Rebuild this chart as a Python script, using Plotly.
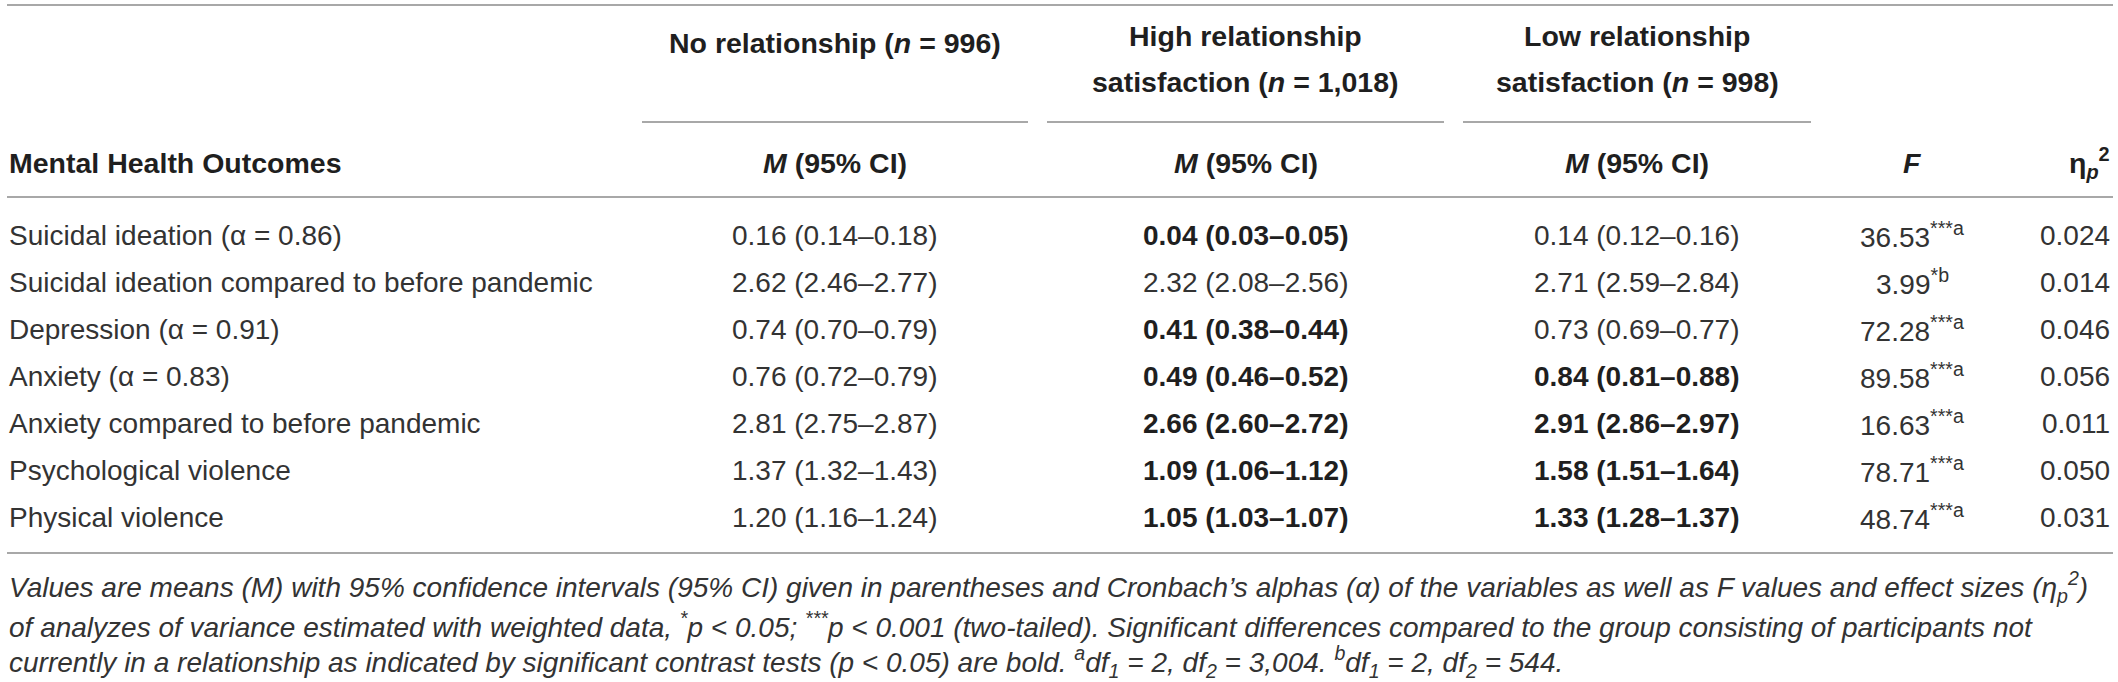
import plotly.graph_objects as go

# ---------------- data ----------------
outcomes = [
    "Suicidal ideation (α = 0.86)",
    "Suicidal ideation compared to before pandemic",
    "Depression (α = 0.91)",
    "Anxiety (α = 0.83)",
    "Anxiety compared to before pandemic",
    "Psychological violence",
    "Physical violence",
]
no_rel_m = [0.16, 2.62, 0.74, 0.76, 2.81, 1.37, 1.20]
no_rel_lo = [0.14, 2.46, 0.70, 0.72, 2.75, 1.32, 1.16]
no_rel_hi = [0.18, 2.77, 0.79, 0.79, 2.87, 1.43, 1.24]

high_m = [0.04, 2.32, 0.41, 0.49, 2.66, 1.09, 1.05]
high_lo = [0.03, 2.08, 0.38, 0.46, 2.60, 1.06, 1.03]
high_hi = [0.05, 2.56, 0.44, 0.52, 2.72, 1.12, 1.07]
high_bold = [True, False, True, True, True, True, True]

low_m = [0.14, 2.71, 0.73, 0.84, 2.91, 1.58, 1.33]
low_lo = [0.12, 2.59, 0.69, 0.81, 2.86, 1.51, 1.28]
low_hi = [0.16, 2.84, 0.77, 0.88, 2.97, 1.64, 1.37]
low_bold = [False, False, False, True, True, True, True]

f_values = [36.53, 3.99, 72.28, 89.58, 16.63, 78.71, 48.74]
f_marks = ["***a", "*b", "***a", "***a", "***a", "***a", "***a"]
eta_values = [0.024, 0.014, 0.046, 0.056, 0.011, 0.050, 0.031]

group_headers = [
    ["No relationship (<i>n</i> = 996)"],
    ["High relationship", "satisfaction (<i>n</i> = 1,018)"],
    ["Low relationship", "satisfaction (<i>n</i> = 998)"],
]
sub_header = "<i>M</i> (95% CI)"
row_header = "Mental Health Outcomes"
f_header = "<i>F</i>"
eta_header = "η<sub><i>p</i></sub><sup>2</sup>"

footnote_lines = [
    "Values are means (M) with 95% confidence intervals (95% CI) given in parentheses and Cronbach’s alphas (α) of the variables as well as F values and effect sizes (η<sub>p</sub><sup>2</sup>)",
    "of analyzes of variance estimated with weighted data, <sup>*</sup>p &lt; 0.05; <sup>***</sup>p &lt; 0.001 (two-tailed). Significant differences compared to the group consisting of participants not",
    "currently in a relationship as indicated by significant contrast tests (p &lt; 0.05) are bold. <sup>a</sup>df<sub>1</sub> = 2, df<sub>2</sub> = 3,004. <sup>b</sup>df<sub>1</sub> = 2, df<sub>2</sub> = 544.",
]

# ---------------- layout config ----------------
W, H = 2118, 682
FONT = "Liberation Sans, Arial, Helvetica, sans-serif"
FS = 28
FS_HEAD = 28.5
FS_FOOT = 28
TXT = "#333333"
BOLD_TXT = "#1f1f1f"
RULE = "#a8a8a8"

left_x = 7
right_x = 2113
group_spans = [(642, 1028), (1047, 1444), (1463, 1811)]
group_centers = [(a + b) / 2 for a, b in group_spans]
f_x = 1912
eta_x = 2112
row_y0, row_dy = 235, 47
sub_y = 163
head_y1 = [43, 36, 36]
head_dy = 46
group_rule_y = 122
top_rule_y = 5
header_rule_y = 197
bottom_rule_y = 553
foot_y0, foot_dy = 587, 37.5

fig = go.Figure()
fig.add_trace(go.Scatter(x=[0, W], y=[0, H], mode="markers",
                         marker=dict(opacity=0), hoverinfo="skip", showlegend=False))

ann = []


def add(text, x, y, xanchor="center", size=FS, color=TXT):
    ann.append(dict(text=text, x=x, y=y, xref="x", yref="y", xanchor=xanchor,
                    yanchor="middle", showarrow=False,
                    font=dict(family=FONT, size=size, color=color)))


# headers
for gi, lines in enumerate(group_headers):
    for li, line in enumerate(lines):
        add(f"<b>{line}</b>", group_centers[gi], head_y1[gi] + li * head_dy,
            size=FS_HEAD, color=BOLD_TXT)
    add(f"<b>{sub_header}</b>", group_centers[gi], sub_y, size=FS_HEAD, color=BOLD_TXT)
add(f"<b>{row_header}</b>", left_x, sub_y, xanchor="left", size=FS_HEAD, color=BOLD_TXT)
add(f"<b>{f_header}</b>", f_x, sub_y, size=FS_HEAD, color=BOLD_TXT)
add(f"<b>{eta_header}</b>", eta_x, sub_y, xanchor="right", size=FS_HEAD, color=BOLD_TXT)


def cell(m, lo, hi, bold):
    s = f"{m:.2f} ({lo:.2f}–{hi:.2f})"
    return f"<b>{s}</b>" if bold else s


for i, name in enumerate(outcomes):
    y = row_y0 + i * row_dy
    add(name, left_x, y, xanchor="left")
    add(cell(no_rel_m[i], no_rel_lo[i], no_rel_hi[i], False), group_centers[0], y)
    add(cell(high_m[i], high_lo[i], high_hi[i], high_bold[i]), group_centers[1], y,
        color=BOLD_TXT if high_bold[i] else TXT)
    add(cell(low_m[i], low_lo[i], low_hi[i], low_bold[i]), group_centers[2], y,
        color=BOLD_TXT if low_bold[i] else TXT)
    add(f"{f_values[i]:.2f}<sup>{f_marks[i]}</sup>", f_x, y)
    add(f"{eta_values[i]:.3f}", eta_x, y, xanchor="right")

for k, line in enumerate(footnote_lines):
    add(f"<i>{line}</i>", left_x, foot_y0 + k * foot_dy, xanchor="left", size=FS_FOOT)

shapes = []


def hline(x0, x1, y):
    shapes.append(dict(type="line", xref="x", yref="y", x0=x0, x1=x1, y0=y, y1=y,
                       line=dict(color=RULE, width=2)))


hline(left_x, right_x, top_rule_y)
for a, b in group_spans:
    hline(a, b, group_rule_y)
hline(left_x, right_x, header_rule_y)
hline(left_x, right_x, bottom_rule_y)

fig.update_layout(
    width=W, height=H,
    margin=dict(l=0, r=0, t=0, b=0),
    paper_bgcolor="white", plot_bgcolor="white",
    xaxis=dict(range=[0, W], visible=False, fixedrange=True),
    yaxis=dict(range=[H, 0], visible=False, fixedrange=True),
    annotations=ann, shapes=shapes,
    showlegend=False,
)

fig.write_html(
    "out.html",
    config={"displayModeBar": False},
    post_script="document.body.style.margin='0';document.body.style.overflow='hidden';",
)
